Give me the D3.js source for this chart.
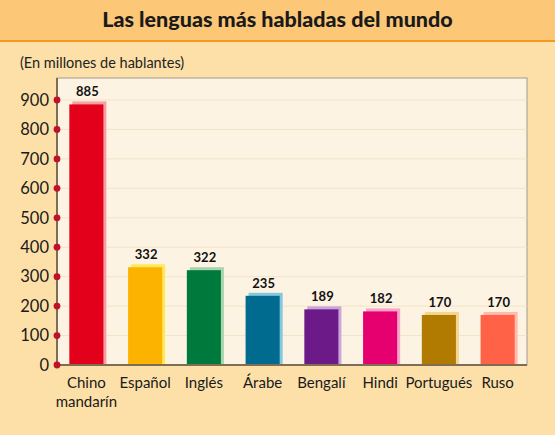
<!DOCTYPE html>
<html><head><meta charset="utf-8">
<script src="https://cdn.jsdelivr.net/npm/d3@7/dist/d3.min.js"></script>
<style>body{margin:0;background:#fde0a8}svg{display:block}</style>
</head><body>
<script>
const categories = ["Chino mandarín","Español","Inglés","Árabe","Bengalí","Hindi","Portugués","Ruso"];
const values = [885,332,322,235,189,182,170,170];
const barColors = ["#e2001a","#fbb300","#007a3c","#006b8f","#6b1a88","#e6006f","#b07b00","#ff6247"];
const shadowColors = ["#f7a0a3","#ffe95a","#a8d5ae","#84c8df","#c9a6da","#f7a6c8","#f4d68e","#ffbcae"];
const yTicks = [0,100,200,300,400,500,600,700,800,900];
const title = "Las lenguas más habladas del mundo";
const subtitle = "(En millones de hablantes)";

const W=555,H=435;
const svg=d3.select("body").append("svg").attr("width",W).attr("height",H);
const font="Lato, 'Open Sans', sans-serif";

svg.append("rect").attr("width",W).attr("height",H).attr("fill","#fde0a8");
svg.append("rect").attr("width",W).attr("height",41).attr("fill","#fcc776");
svg.append("rect").attr("y",40).attr("width",W).attr("height",2).attr("fill","#f39a1e");
svg.append("text").attr("x",W/2).attr("y",27).attr("text-anchor","middle")
  .attr("font-family",font).attr("font-weight","900").attr("font-size",21.5).attr("fill","#1a1a1a").text(title);
svg.append("text").attr("x",20).attr("y",68).attr("font-family",font).attr("font-size",14.5).attr("fill","#222").text(subtitle);

const L=57,R=527,T=78,B=365;
const x=d3.scaleBand().domain(categories).range([L,R]).paddingInner(0.42).paddingOuter(0.21);
const y=d3.scaleLinear().domain([0,900]).range([B,100]);

svg.append("rect").attr("x",L).attr("y",T).attr("width",R-L).attr("height",B-T)
  .attr("fill","#fdf3e2").attr("stroke","#a09a90").attr("stroke-width",1);
svg.selectAll(".gl").data(yTicks.slice(1)).join("line")
  .attr("x1",L).attr("x2",R).attr("y1",d=>y(d)).attr("y2",d=>y(d))
  .attr("stroke","#f3e3c8").attr("stroke-width",1);

const g=svg.selectAll(".bar").data(categories).join("g");
g.append("rect").attr("x",d=>x(d)+3).attr("y",(d,i)=>y(values[i])-3)
  .attr("width",x.bandwidth()).attr("height",(d,i)=>B-y(values[i])+3).attr("fill",(d,i)=>shadowColors[i]);
g.append("rect").attr("x",d=>x(d)).attr("y",(d,i)=>y(values[i]))
  .attr("width",x.bandwidth()).attr("height",(d,i)=>B-y(values[i])).attr("fill",(d,i)=>barColors[i]);
g.append("text").attr("x",d=>x(d)+x.bandwidth()/2+1).attr("y",(d,i)=>y(values[i])-8)
  .attr("text-anchor","middle").attr("font-family",font).attr("font-weight","bold").attr("font-size",13).attr("fill","#111")
  .text((d,i)=>values[i]);

// axes lines
svg.append("line").attr("x1",L).attr("x2",L).attr("y1",T).attr("y2",B).attr("stroke","#7d6d55").attr("stroke-width",2);
svg.append("line").attr("x1",L).attr("x2",R).attr("y1",B).attr("y2",B).attr("stroke","#7d6d55").attr("stroke-width",2);

// y axis with D3
const yAxis=d3.axisLeft(y).tickValues(yTicks).tickSize(0).tickPadding(8);
const ya=svg.append("g").attr("transform",`translate(${L},0)`).call(yAxis);
ya.select(".domain").remove();
ya.selectAll("text").attr("font-family",font).attr("font-size",16.5).attr("fill","#1a1a1a");
svg.selectAll(".dot").data(yTicks).join("circle").attr("cx",L).attr("cy",d=>y(d)).attr("r",3.4).attr("fill","#c0102a");

// x labels
const xl=svg.selectAll(".xl").data(categories).join("text")
  .attr("x",d=>x(d)+x.bandwidth()/2).attr("y",388).attr("text-anchor","middle")
  .attr("font-family",font).attr("font-size",15).attr("fill","#1a1a1a");
xl.each(function(d){
  const parts=d==="Chino mandarín"?["Chino","mandarín"]:[d];
  d3.select(this).selectAll("tspan").data(parts).join("tspan")
    .attr("x",x(d)+x.bandwidth()/2).attr("dy",(p,i)=>i?19:0).text(p=>p);
});
</script>
</body></html>
